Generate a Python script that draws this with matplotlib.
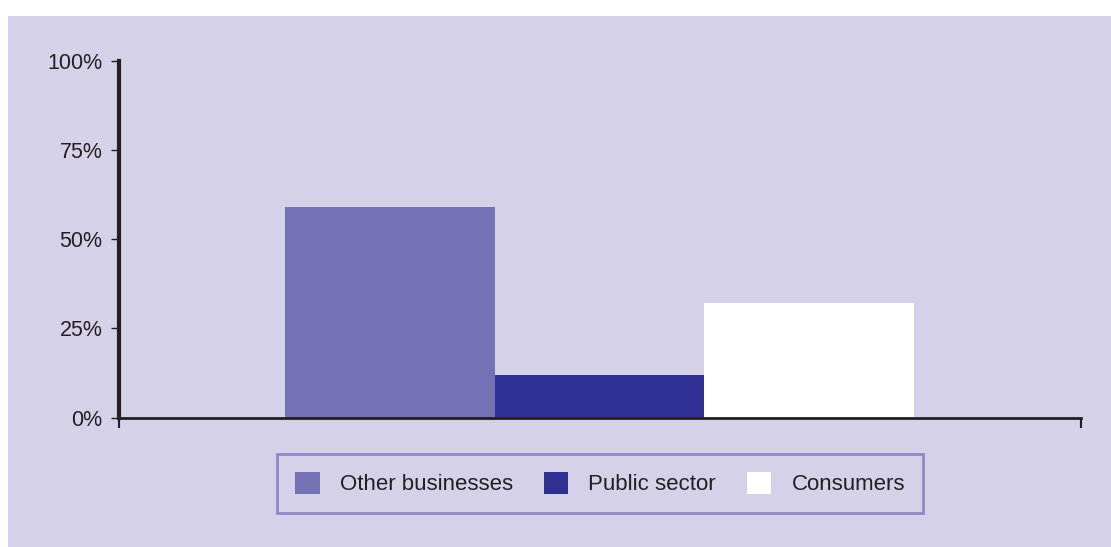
import matplotlib
matplotlib.use("Agg")
import matplotlib.pyplot as plt
from matplotlib.patches import Rectangle, Patch

plt.rcParams['font.family'] = ['Liberation Sans', 'DejaVu Sans']

categories = ["Other businesses", "Public sector", "Consumers"]
shares = [59, 12, 32]
bar_colors = ["#7671b4", "#2e3192", "#ffffff"]
y_ticks = [0, 25, 50, 75, 100]
y_tick_labels = ["0%", "25%", "50%", "75%", "100%"]

panel_color = "#d4d1e8"
ink = "#231f20"

fig = plt.figure(figsize=(11.11, 5.47), dpi=100)
fig.patch.set_facecolor("white")

# lavender panel behind everything
panel = Rectangle((8 / 1111, 0), 1 - 8 / 1111, 1 - 16 / 547,
                  transform=fig.transFigure, facecolor=panel_color,
                  edgecolor="none", zorder=-10)
fig.patches.append(panel)

ax = fig.add_axes([119 / 1111, 1 - 417.5 / 547, (1081 - 119) / 1111, (417.5 - 61) / 547])
ax.set_facecolor("none")
ax.set_zorder(1)

x = range(len(categories))
ax.bar(x, shares, width=1.0, color=bar_colors, edgecolor="none", zorder=2)

ax.set_xlim(-1.294, 3.298)
ax.set_ylim(0, 100)

ax.set_yticks(y_ticks)
ax.set_yticklabels(y_tick_labels, fontsize=15.5, color=ink)
ax.tick_params(axis="y", direction="out", length=6, width=1, color=ink, pad=6)

# only the end ticks on the x axis, without labels
ax.set_xticks([-1.294, 3.298])
ax.set_xticklabels(["", ""])
ax.tick_params(axis="x", direction="out", length=7, width=1.5, color=ink)

for side in ["top", "right"]:
    ax.spines[side].set_visible(False)
ax.spines["left"].set_linewidth(3)
ax.spines["left"].set_color(ink)
ax.spines["bottom"].set_linewidth(2)
ax.spines["bottom"].set_color(ink)

handles = [Patch(facecolor=c, edgecolor="none") for c in bar_colors]
leg = fig.legend(handles, categories, loc="center", ncol=3,
                 bbox_to_anchor=(600 / 1111, 1 - 483.5 / 547),
                 fontsize=16, frameon=True, fancybox=False,
                 handlelength=1.1, handleheight=1.2, handletextpad=0.9,
                 columnspacing=1.4, borderpad=0.8, borderaxespad=0)
leg.get_frame().set_facecolor(panel_color)
leg.get_frame().set_edgecolor("#7c76c0")
leg.get_frame().set_linewidth(2)
leg.set_zorder(2)
for t in leg.get_texts():
    t.set_color(ink)

fig.savefig("out.png", dpi=100, facecolor=fig.get_facecolor())
